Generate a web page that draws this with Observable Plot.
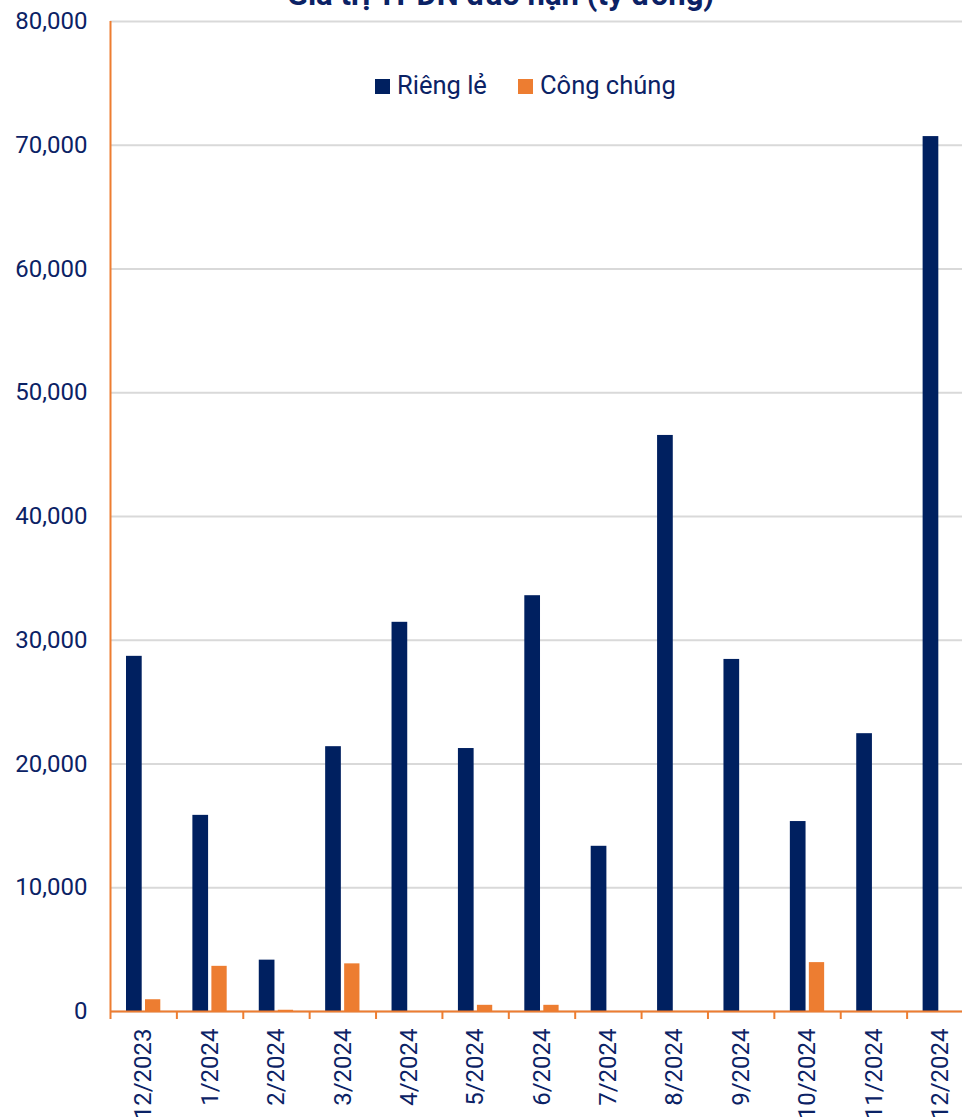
<!DOCTYPE html>
<html>
<head>
<meta charset="utf-8">
<script src="https://cdn.jsdelivr.net/npm/d3@7"></script>
<script src="https://cdn.jsdelivr.net/npm/@observablehq/plot@0.6"></script>
<style>
  html, body { margin: 0; padding: 0; background: #fff; overflow: hidden; }
  #wrap { position: relative; width: 962px; height: 1117px; overflow: hidden; font-family: Roboto, sans-serif; }
  #title { position: absolute; left: 0; width: 1001px; top: -21px; text-align: center;
           font: bold 31px/31px Roboto, sans-serif; color: #0b2265; white-space: nowrap; }
  .sw { position: absolute; width: 15px; height: 15px; top: 79px; }
  .lt { position: absolute; top: 72.5px; font: 25.5px/25.5px Roboto, sans-serif; color: #0b2265; white-space: nowrap; }
  #chart { position: absolute; left: 0; top: 0; width: 975px; }
  #chart svg { max-width: none !important; }
</style>
</head>
<body>
<div id="wrap">
  <div id="chart"></div>
  <div id="title">Giá trị TPDN đáo hạn (tỷ đồng)</div>
  <div class="sw" id="sw1" style="left:375px"></div>
  <div class="lt" id="lt1" style="left:397px"></div>
  <div class="sw" id="sw2" style="left:518px"></div>
  <div class="lt" id="lt2" style="left:540px"></div>
</div>
<script>
// Corporate bond maturities by month, billion VND
const months = ["12/2023", "1/2024", "2/2024", "3/2024", "4/2024", "5/2024", "6/2024",
                "7/2024", "8/2024", "9/2024", "10/2024", "11/2024", "12/2024"];
const privateIssues = [28700, 15850, 4150, 21400, 31450, 21250, 33600,
                       13350, 46550, 28450, 15350, 22450, 70700];
const publicIssues = [950, 3650, 100, 3850, 0, 500, 500,
                      0, 0, 0, 3950, 0, 0];
const seriesNames = ["Riêng lẻ", "Công chúng"];
const yTicks = [0, 10000, 20000, 30000, 40000, 50000, 60000, 70000, 80000];

const navy = "#002060";
const orange = "#ED7D31";
const textColor = "#0b2265";

const rowsPrivate = months.map((m, i) => ({month: m, value: privateIssues[i]}));
const rowsPublic = months.map((m, i) => ({month: m, value: publicIssues[i]}));

const W = 975, ML = 110, MR = 2;
const bw = (W - ML - MR) / months.length;

const chart = Plot.plot({
  width: W,
  height: 1117,
  marginLeft: ML,
  marginRight: MR,
  marginTop: 21,
  marginBottom: 106,
  style: {fontFamily: "Roboto, sans-serif", background: "#fff", maxWidth: "none"},
  x: {type: "band", domain: months, padding: 0, round: false, label: null},
  y: {domain: [0, 80000], label: null},
  marks: [
    Plot.gridY({ticks: yTicks, stroke: "#d9d9d9", strokeOpacity: 1, strokeWidth: 2}),
    Plot.barY(rowsPrivate, {x: "month", y: "value", fill: navy,
      insetLeft: 16, insetRight: bw - 31.7}),
    Plot.barY(rowsPublic, {x: "month", y: "value", fill: orange,
      insetLeft: 35, insetRight: bw - 50.3}),
    Plot.ruleY([0], {stroke: orange, strokeWidth: 2}),
    Plot.ruleX([months[0]], {dx: -bw / 2, stroke: orange, strokeWidth: 2}),
    // category boundary ticks below the baseline
    Plot.axisX({tickSize: 8, dx: -bw / 2, stroke: orange, strokeWidth: 2, fill: "none", label: null}),
    Plot.axisX({tickSize: 0, tickRotate: -90, tickPadding: 17, fontSize: 24, fill: textColor, label: null}),
    Plot.axisY({ticks: yTicks, tickSize: 0, tickPadding: 23, fontSize: 24, fill: textColor,
      tickFormat: d3.format(","), label: null})
  ]
});
document.getElementById("chart").appendChild(chart);

document.getElementById("sw1").style.background = navy;
document.getElementById("sw2").style.background = orange;
document.getElementById("lt1").textContent = seriesNames[0];
document.getElementById("lt2").textContent = seriesNames[1];
</script>
</body>
</html>
